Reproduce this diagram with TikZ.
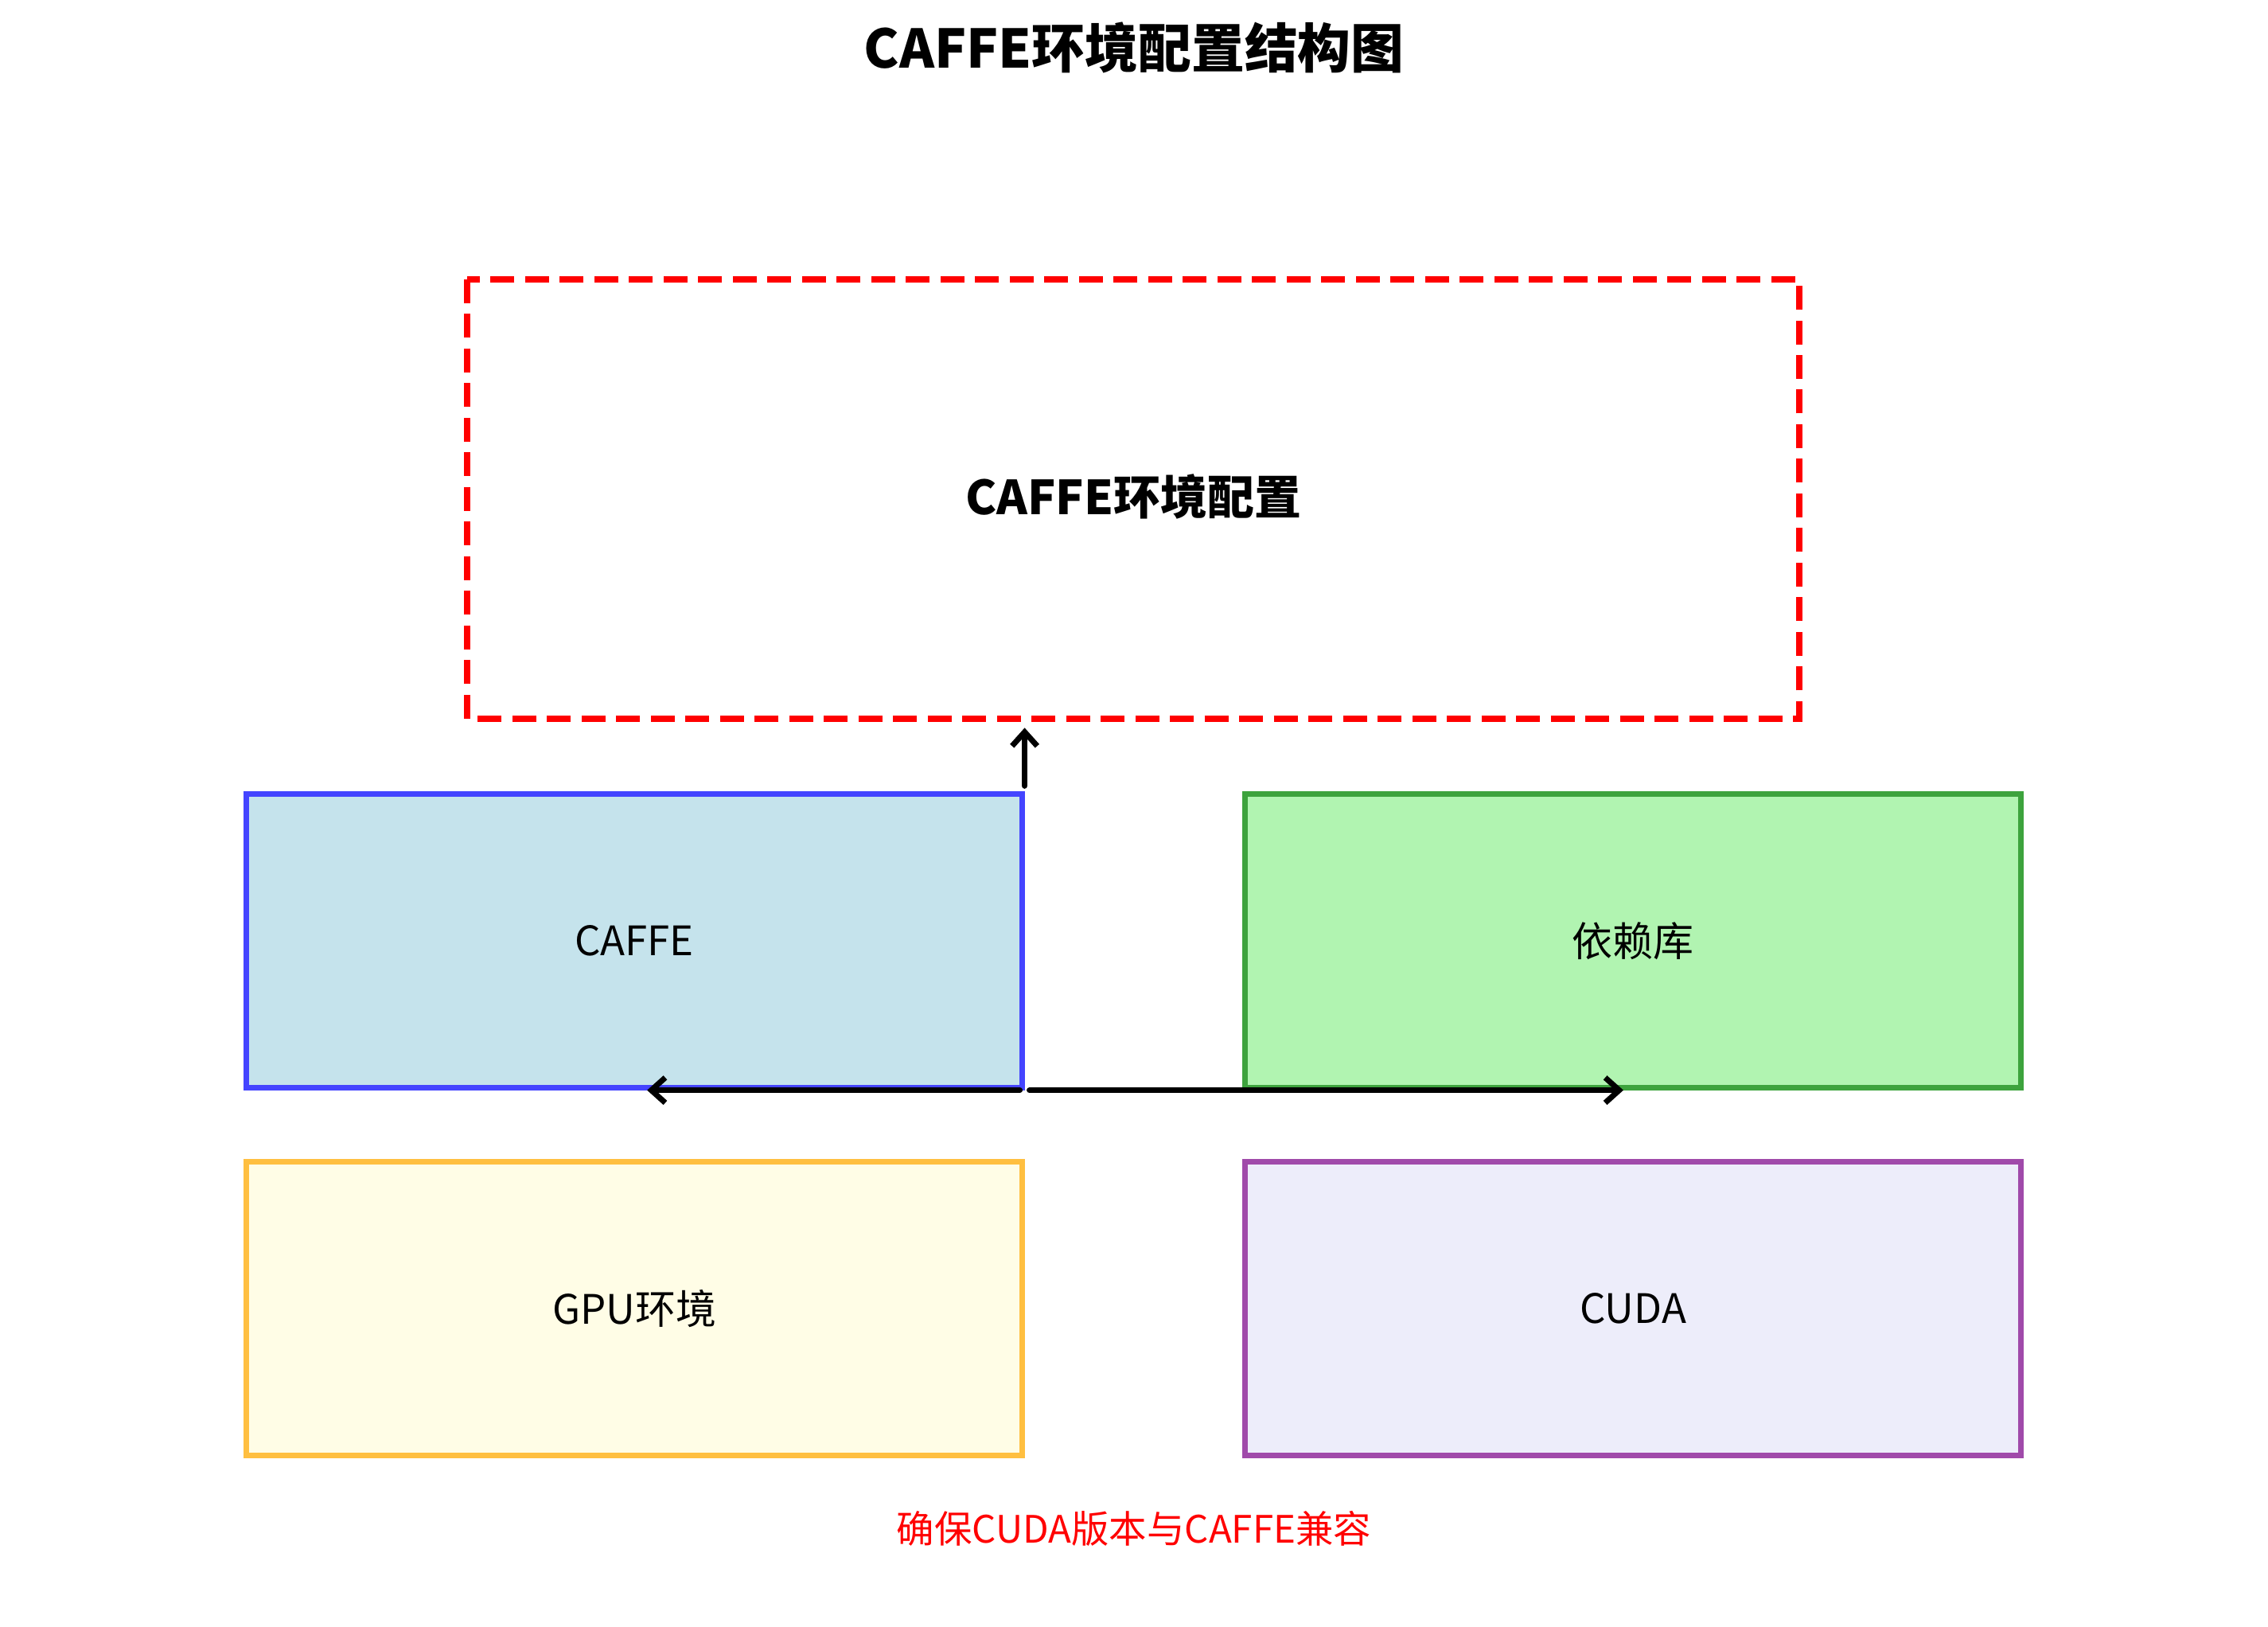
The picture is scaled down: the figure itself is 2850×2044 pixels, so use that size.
\documentclass[tikz,border=0pt]{standalone}
\usepackage{fontspec}
\setmainfont{Noto Sans CJK SC}
\usetikzlibrary{arrows.meta}
\definecolor{bboxB}{HTML}{4444FF}
\definecolor{bboxBf}{HTML}{C5E3EC}
\definecolor{gboxB}{HTML}{3DA33D}
\definecolor{gboxBf}{HTML}{B1F4B1}
\definecolor{yboxB}{HTML}{FFBF40}
\definecolor{yboxBf}{HTML}{FFFDE6}
\definecolor{pboxB}{HTML}{A04AAA}
\definecolor{pboxBf}{HTML}{EDEDFA}
\tikzset{
  comp/.style={draw, line width=3.6pt, minimum width=19.5cm, minimum height=7.38cm, inner sep=0pt, font=\fontsize{29}{34}\selectfont},
  conn/.style={line width=4pt, -{Straight Barb[length=10pt,width=18pt,line width=4pt]}, line cap=round},
}
\begin{document}
\begin{tikzpicture}[x=0.02cm,y=-0.02cm]
\useasboundingbox[fill=white] (0,0) rectangle (2850,2044);
\node[font=\fontsize{38}{44}\selectfont\bfseries] (title) at (1425,60) {CAFFE环境配置结构图};
\draw[red, line width=4.4pt, dash pattern=on 0.6cm off 0.27cm] (587,351) rectangle (2261,903);
\node[font=\fontsize{33.5}{40}\selectfont\bfseries] (main) at (1424,624) {CAFFE环境配置};
\node[comp, draw=bboxB, fill=bboxBf] (caffe) at (797,1182) {CAFFE};
\node[comp, draw=gboxB, fill=gboxBf] (dep) at (2052,1182) {依赖库};
\node[comp, draw=yboxB, fill=yboxBf] (gpu) at (797,1644) {GPU环境};
\node[comp, draw=pboxB, fill=pboxBf] (cuda) at (2052,1644) {CUDA};
\node[red, font=\fontsize{27}{32}\selectfont] (note) at (1425,1920) {确保CUDA版本与CAFFE兼容};
\coordinate (upstart) at ([yshift=0.14cm]caffe.north east);
\coordinate (mainb) at ([yshift=1.6cm]caffe.north east);
\coordinate (lstart) at ([xshift=-0.12cm]caffe.south east);
\coordinate (rstart) at ([xshift=0.12cm]caffe.south east);
\coordinate (lt) at ([xshift=-9.49cm]caffe.south east);
\coordinate (rt) at ([xshift=15.05cm]caffe.south east);
\draw[conn] (upstart) -- (mainb);
\draw[conn] (lstart) -- (lt);
\draw[conn] (rstart) -- (rt);
\end{tikzpicture}
\end{document}
